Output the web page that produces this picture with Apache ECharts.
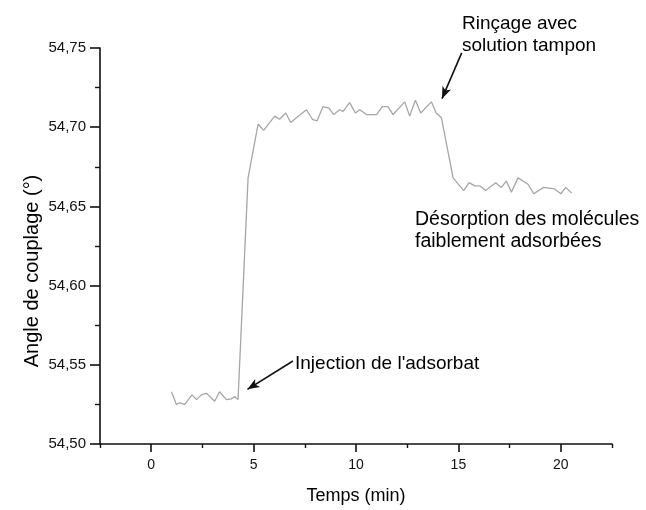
<!DOCTYPE html>
<html>
<head>
<meta charset="utf-8">
<script src="https://cdn.jsdelivr.net/npm/echarts@6/dist/echarts.min.js"></script>
<style>
html,body{margin:0;padding:0;background:#fff;}
#chart{width:646px;height:510px;}
</style>
</head>
<body>
<div id="chart"></div>
<script>
// Time (min)
var timeMin = [0.99,1.23,1.39,1.64,1.99,2.21,2.45,2.70,2.86,3.10,3.34,3.67,3.91,4.08,4.24,
  4.73,
  5.22,5.49,6.03,6.27,6.57,6.81,7.09,7.58,7.87,8.10,8.39,8.68,8.91,9.20,9.37,9.69,9.97,10.18,10.51,11.00,11.29,11.56,11.81,12.38,12.62,12.90,13.16,13.68,13.92,14.17,
  14.74,15.26,15.52,15.80,16.04,16.33,16.82,17.10,17.34,17.59,17.91,18.40,18.68,19.16,19.70,20.00,20.24,20.52];
// Coupling angle (deg)
var angleDeg = [54.533,54.525,54.526,54.525,54.531,54.528,54.531,54.532,54.530,54.527,54.533,54.528,54.5285,54.530,54.528,
  54.668,
  54.702,54.698,54.707,54.705,54.709,54.703,54.706,54.711,54.705,54.704,54.713,54.712,54.708,54.711,54.710,54.7155,54.709,54.711,54.708,54.708,54.713,54.713,54.708,54.716,54.707,54.717,54.709,54.716,54.709,54.706,
  54.668,54.660,54.665,54.663,54.663,54.660,54.665,54.662,54.666,54.659,54.668,54.664,54.658,54.662,54.661,54.658,54.662,54.6585];

var xMajorTicks = [0,5,10,15,20];
var xMinorTicks = [-2.5,2.5,7.5,12.5,17.5,22.5];

// Annotation arrows (data coordinates): [start, tip]
var arrowInjection = [[6.92,54.5524],[4.70,54.5345]];
var arrowRincage = [[15.16,54.7469],[14.20,54.7180]];

var annInjection = "Injection de l'adsorbat";
var annRincage = "Rinçage avec\nsolution tampon";
var annDesorption = "Désorption des molécules\nfaiblement adsorbées";
var xTitle = "Temps (min)";
var yTitle = "Angle de couplage (°)";

var FONT = "'Liberation Sans', Arial, sans-serif";
var seriesData = timeMin.map(function(t,i){return [t, angleDeg[i]];});

var chart = echarts.init(document.getElementById('chart'), null, {renderer:'canvas'});
chart.setOption({
  animation:false,
  backgroundColor:'#ffffff',
  grid:{left:100, right:34, top:48, bottom:60.5},
  xAxis:[{
    type:'value', min:-2.5, max:22.5,
    name:xTitle, nameLocation:'middle', nameGap:43,
    nameTextStyle:{fontFamily:FONT, fontSize:18, color:'#000'},
    axisLine:{show:true, onZero:false, lineStyle:{color:'#111', width:1.6}},
    axisTick:{show:true, customValues:xMajorTicks, length:8, lineStyle:{color:'#111', width:1.6}},
    axisLabel:{customValues:xMajorTicks, margin:14, fontFamily:FONT, fontSize:14, color:'#111'},
    splitLine:{show:false}
  },{
    type:'value', min:-2.5, max:22.5, position:'bottom',
    axisLine:{show:false},
    axisTick:{show:true, customValues:xMinorTicks, length:4, lineStyle:{color:'#111', width:1.4}},
    axisLabel:{show:false},
    splitLine:{show:false}
  }],
  yAxis:{
    type:'value', min:54.5, max:54.75, interval:0.05,
    axisLine:{show:true, onZero:false, lineStyle:{color:'#111', width:1.6}},
    axisTick:{show:true, length:10, lineStyle:{color:'#111', width:1.6}},
    minorTick:{show:true, splitNumber:2, length:5, lineStyle:{color:'#111', width:1.4}},
    axisLabel:{margin:14, fontFamily:FONT, fontSize:15, color:'#111',
      formatter:function(v){return v.toFixed(2).replace('.',',');}},
    splitLine:{show:false}
  },
  series:[{
    type:'line', xAxisIndex:0, data:seriesData, showSymbol:false, symbol:'none',
    lineStyle:{color:'#a6a6a6', width:1.3},
    markLine:{
      silent:true, symbol:['none','arrow'], symbolSize:[7,12],
      lineStyle:{color:'#111', width:1.6, type:'solid'},
      label:{show:false},
      data:[
        [{coord:arrowInjection[0]},{coord:arrowInjection[1]}],
        [{coord:arrowRincage[0]},{coord:arrowRincage[1]}]
      ]
    }
  }],
  graphic:[
    {type:'text', x:32, y:271, rotation:Math.PI/2,
     style:{text:yTitle, font:"20px "+FONT, fill:'#000', textAlign:'center', textVerticalAlign:'middle'}},
    {type:'text', x:462, y:13,
     style:{text:annRincage, font:"19px "+FONT, fill:'#000', lineHeight:22, textVerticalAlign:'top'}},
    {type:'text', x:415, y:209,
     style:{text:annDesorption, font:"19.5px "+FONT, fill:'#000', lineHeight:22, textVerticalAlign:'top'}},
    {type:'text', x:295, y:353,
     style:{text:annInjection, font:"19px "+FONT, fill:'#000', lineHeight:22, textVerticalAlign:'top'}}
  ]
});
</script>
</body>
</html>
